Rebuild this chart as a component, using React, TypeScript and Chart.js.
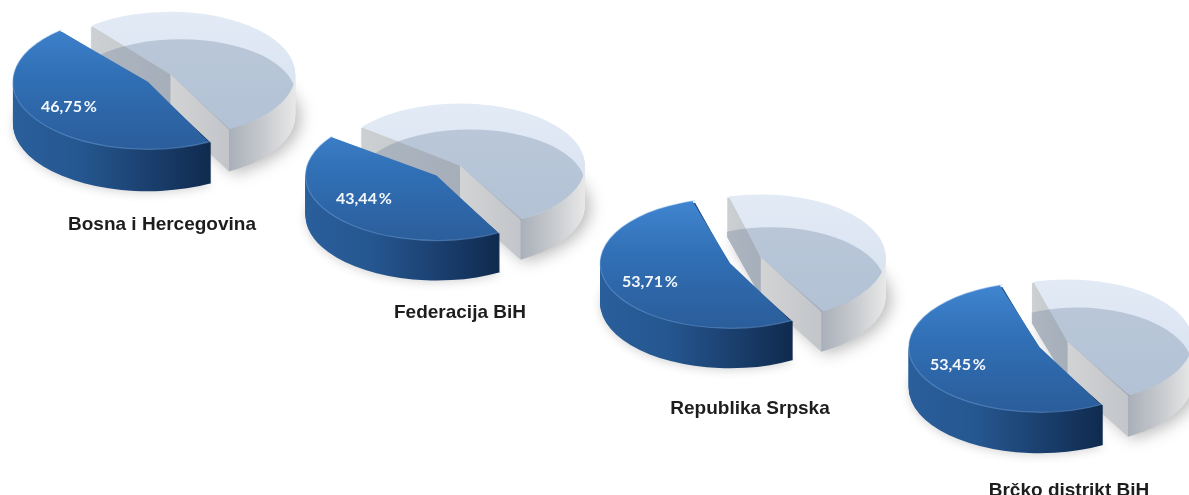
import React, { useEffect, useRef } from "react";
import { Chart, ArcElement, PieController } from "chart.js";

Chart.register(ArcElement, PieController);

const regions = ["Bosna i Hercegovina", "Federacija BiH", "Republika Srpska", "Brčko distrikt BiH"];
const blueValues = [46.75, 43.44, 53.71, 53.45];
const lightValues = [53.25, 56.56, 46.29, 46.55];

// Layout only: ellipse of each blue slab, separation of the light slice, tilt, thickness, shading ellipse.
const layouts = [
  { bx: 148, by: 82, blueR: 135, lightR: 125, sep: 27, k: 0.5, depth: 42, rot: 152, sx: 10, sy: 20, sr: 0.92, sk: 0.478 },
  { bx: 436, by: 175, blueR: 131, lightR: 125, sep: 31, k: 0.496, depth: 40, rot: 151, sx: 10, sy: 19, sr: 0.92, sk: 0.478 },
  { bx: 730, by: 263, blueR: 130, lightR: 125, sep: 33, k: 0.5, depth: 40, rot: 151, sx: 10, sy: 30, sr: 0.92, sk: 0.52 },
  { bx: 1040, by: 347, blueR: 131, lightR: 125, sep: 30, k: 0.496, depth: 41, rot: 151, sx: 10, sy: 26, sr: 0.92, sk: 0.52 },
];
const titlePos = [[162, 224], [460, 312], [750, 408], [1069, 490]];
const valuePos = [[69, 105], [364, 197], [650, 280], [958, 363]];

const CW = 380;
const CH = 320;
const SHADE = "rgba(85,110,145,0.27)";
const rad = (d: number) => (d * Math.PI) / 180;

function fixOf(percent: number) {
  return 1 - Math.sin(Math.min(Math.PI, (percent / 100) * 2 * Math.PI));
}

function geom(arc: any, cy: number, k: number) {
  const off = (arc.options.offset || 0) / 4;
  const mid = (arc.startAngle + arc.endAngle) / 2;
  const fix = 1 - Math.sin(Math.min(Math.PI, arc.circumference));
  const x = arc.x + Math.cos(mid) * off;
  const y = cy + (arc.y + Math.sin(mid) * off - cy) * k;
  const r = arc.outerRadius + off * fix;
  return { x, y, r, ry: r * k, a0: arc.startAngle, a1: arc.endAngle };
}

function sector(ctx: CanvasRenderingContext2D, g: any, dy = 0) {
  ctx.moveTo(g.x, g.y + dy);
  ctx.ellipse(g.x, g.y + dy, g.r, g.ry, 0, g.a0, g.a1);
  ctx.closePath();
}

function shade(ctx: CanvasRenderingContext2D, light: any, l: any) {
  ctx.fillStyle = SHADE;
  ctx.beginPath();
  ctx.ellipse(light.x + l.sx, light.y + l.sy, light.r * l.sr, light.r * l.sr * l.sk, 0, 0, Math.PI * 2);
  ctx.fill();
}

function makePlugin(l: any) {
  return {
    id: "slab",
    beforeDatasetsDraw(chart: any) {
      const ctx: CanvasRenderingContext2D = chart.ctx;
      const arcs = chart.getDatasetMeta(0).data;
      const cy = CH / 2;
      const blue = geom(arcs[0], cy, l.k);
      const light = geom(arcs[1], cy, l.k);

      // light slice walls: a0 is the upper-left corner, a1 the front corner
      const left = light.x + Math.cos(light.a0) * light.r;
      const right = light.x + light.r;
      const tip = light.x + Math.cos(light.a1) * light.r;
      const lg = ctx.createLinearGradient(left, 0, right, 0);
      const t = (v: number) => Math.min(1, Math.max(0, (v - left) / (right - left)));
      lg.addColorStop(0, "#cdd0d3");
      lg.addColorStop(t(light.x), "#c3c6c9");
      lg.addColorStop(t(light.x + 0.5), "#d2d3d4");
      lg.addColorStop(t(tip - 0.5), "#c2c5ca");
      lg.addColorStop(t(tip + 0.5), "#aab0ba");
      lg.addColorStop(t(tip + (right - tip) * 0.5), "#c6c9cd");
      lg.addColorStop(1, "#e8e8e8");
      for (let d = l.depth; d >= 1; d--) {
        ctx.save();
        if (d === l.depth) {
          ctx.shadowColor = "rgba(0,0,0,0.28)";
          ctx.shadowBlur = 16;
          ctx.shadowOffsetX = 5;
          ctx.shadowOffsetY = 2;
        }
        ctx.fillStyle = lg;
        ctx.beginPath();
        sector(ctx, light, d);
        ctx.fill();
        ctx.restore();
      }

      // floor of the translucent slice, seen through the back wall
      const vx = light.x + Math.cos(light.a0) * light.r;
      const vy = light.y + Math.sin(light.a0) * light.ry;
      ctx.save();
      ctx.beginPath();
      ctx.moveTo(vx, vy);
      ctx.lineTo(light.x, light.y);
      ctx.lineTo(light.x, light.y + l.depth);
      ctx.lineTo(vx, vy + l.depth);
      ctx.closePath();
      ctx.clip();
      shade(ctx, light, l);
      ctx.restore();

      // blue slice walls (the top layers stop short so no dark fringe shows along the cut edge)
      const bl = blue.x - blue.r;
      const bt = blue.x + Math.cos(blue.a0) * blue.r;
      const bg = ctx.createLinearGradient(bl, 0, bt, 0);
      bg.addColorStop(0, "#2a5f9c");
      bg.addColorStop(0.35, "#25568f");
      bg.addColorStop(0.65, "#1c4272");
      bg.addColorStop(1, "#0f2a4e");
      for (let d = l.depth; d >= 2; d--) {
        ctx.save();
        if (d === l.depth) {
          ctx.shadowColor = "rgba(0,0,0,0.16)";
          ctx.shadowBlur = 10;
          ctx.shadowOffsetY = 2;
        }
        ctx.fillStyle = bg;
        ctx.beginPath();
        sector(ctx, blue, d);
        ctx.fill();
        ctx.restore();
      }

      ctx.save();
      ctx.translate(0, cy);
      ctx.scale(1, l.k);
      ctx.translate(0, -cy);
    },
    afterDatasetsDraw(chart: any) {
      const ctx: CanvasRenderingContext2D = chart.ctx;
      ctx.restore();
      const arcs = chart.getDatasetMeta(0).data;
      const cy = CH / 2;
      const blue = geom(arcs[0], cy, l.k);
      const light = geom(arcs[1], cy, l.k);

      // rim light along the blue top edge
      ctx.save();
      ctx.strokeStyle = "rgba(125,175,230,0.4)";
      ctx.lineWidth = 1.2;
      ctx.beginPath();
      ctx.ellipse(blue.x, blue.y, blue.r, blue.ry, 0, blue.a0, blue.a1);
      ctx.stroke();
      ctx.restore();

      // floor of the translucent slice, seen through its top
      ctx.save();
      ctx.beginPath();
      sector(ctx, light);
      ctx.clip();
      shade(ctx, light, l);
      ctx.restore();
    },
  };
}

function Pie({ index }: { index: number }) {
  const ref = useRef<HTMLCanvasElement>(null);
  const l = layouts[index];
  const blueV = blueValues[index];
  const lightV = lightValues[index];

  const fb = fixOf(blueV);
  const fl = fixOf(lightV);
  const a = (l.blueR - l.lightR + fl * l.sep) / (fb + fl);
  const b = l.sep - a;
  const R0 = l.blueR - fb * a;
  const midBlue = rad(l.rot - 90 + (blueV / 100) * 180);
  const cx = l.bx - Math.cos(midBlue) * a;
  const cyPage = l.by - Math.sin(midBlue) * a * l.k;
  const left = Math.round(cx - CW / 2);
  const top = Math.round(cyPage - CH / 2);

  useEffect(() => {
    const canvas = ref.current!;
    const c2 = canvas.getContext("2d")!;
    const cy = CH / 2;
    const by = cy + (l.by - cyPage);
    const toUser = (y: number) => cy + (y - cy) / l.k;
    const ry = l.blueR * l.k;
    const g1 = c2.createLinearGradient(0, toUser(by - ry), 0, toUser(by + ry));
    g1.addColorStop(0, "#4085d0");
    g1.addColorStop(0.4, "#3170b6");
    g1.addColorStop(1, "#2a5c99");
    const g2 = c2.createLinearGradient(0, toUser(by - ry - 10), 0, toUser(by + ry));
    g2.addColorStop(0, "#e3ebf6");
    g2.addColorStop(1, "#d4dfed");

    const chart = new Chart(canvas, {
      type: "pie",
      data: {
        labels: ["Blue", "Light"],
        datasets: [
          {
            data: [blueV, lightV],
            backgroundColor: [g1, g2],
            borderWidth: 0,
            offset: [a * 4, b * 4],
            radius: R0,
            rotation: l.rot,
          } as any,
        ],
      },
      options: {
        responsive: false,
        animation: false,
        events: [],
        layout: { padding: 0 },
        plugins: { legend: { display: false }, tooltip: { enabled: false } },
      },
      plugins: [makePlugin(l)],
    } as any);
    return () => chart.destroy();
  }, []);

  return (
    <canvas
      ref={ref}
      width={CW}
      height={CH}
      style={{ position: "absolute", left, top, width: CW, height: CH, display: "block" }}
    />
  );
}

export default function App() {
  useEffect(() => {
    document.body.style.margin = "0";
    document.body.style.background = "#fff";
  }, []);
  return (
    <div
      style={{
        position: "absolute",
        left: 0,
        top: 0,
        width: 1189,
        height: 495,
        overflow: "hidden",
        background: "#fff",
        filter: "blur(0.5px)",
      }}
    >
      {regions.map((_, i) => (
        <Pie key={i} index={i} />
      ))}
      {regions.map((name, i) => (
        <div
          key={name}
          style={{
            position: "absolute",
            left: titlePos[i][0],
            top: titlePos[i][1],
            transform: "translate(-50%,-50%)",
            whiteSpace: "nowrap",
            font: "bold 19px 'Liberation Sans', Arial, sans-serif",
            color: "#1d1d1d",
          }}
        >
          {name}
        </div>
      ))}
      {blueValues.map((v, i) => (
        <div
          key={i}
          style={{
            position: "absolute",
            left: valuePos[i][0],
            top: valuePos[i][1],
            transform: "translate(-50%,-50%)",
            whiteSpace: "nowrap",
            font: "bold 16px Lato, sans-serif",
            wordSpacing: "-2px",
            color: "#f4f8fc",
          }}
        >
          {v.toFixed(2).replace(".", ",")} %
        </div>
      ))}
    </div>
  );
}
